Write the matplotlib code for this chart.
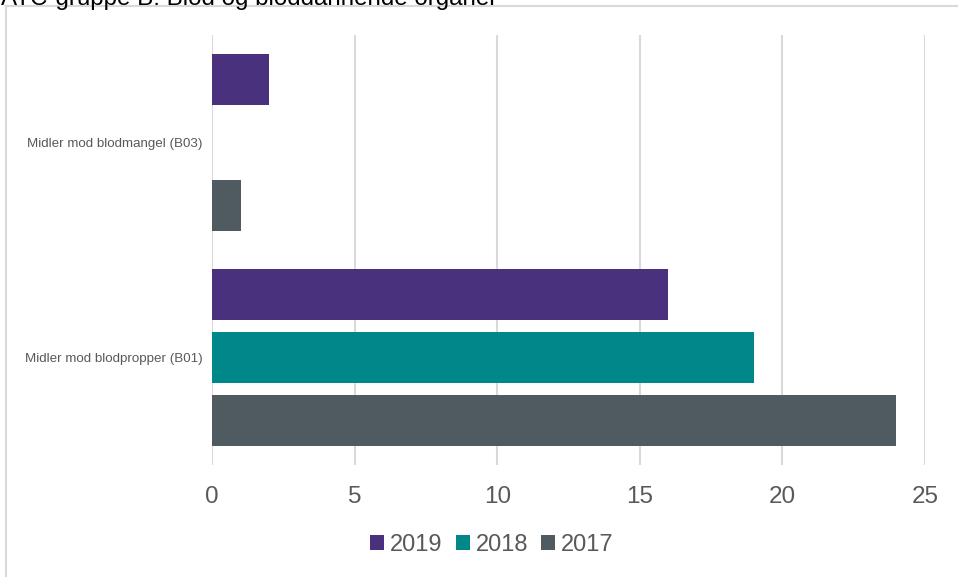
import matplotlib.pyplot as plt
from matplotlib.lines import Line2D
from matplotlib.patches import Patch
import numpy as np

plt.rcParams['font.family'] = ['Liberation Sans', 'DejaVu Sans']

categories = ["Midler mod blodpropper (B01)", "Midler mod blodmangel (B03)"]
years = ["2019", "2018", "2017"]
values_2019 = [16, 2]
values_2018 = [19, 0]
values_2017 = [24, 1]
x_ticks = [0, 5, 10, 15, 20, 25]
title = "ATC-gruppe B: Blod og bloddannende organer"

colors = {"2019": "#4A317E", "2018": "#00878A", "2017": "#4F5B61"}
series = {"2019": values_2019, "2018": values_2018, "2017": values_2017}

W, H = 958, 577
fig = plt.figure(figsize=(W / 100, H / 100), dpi=100)

# outer chart frame (extends past right/bottom edge)
fig.add_artist(Line2D([6 / W, 6 / W], [0, 1 - 6 / H], color="#D9D9D9", lw=1.5,
                      transform=fig.transFigure))
fig.add_artist(Line2D([6 / W, 1], [1 - 6 / H, 1 - 6 / H], color="#D9D9D9", lw=1.5,
                      transform=fig.transFigure))

# title, mostly above the canvas
fig.text(1 / W, 1 - 5 / H, title, ha="left", va="baseline", fontsize=17.4,
         color="#000000")

left, right = 212 / W, 925 / W
top, bottom = 1 - 35 / H, 1 - 465 / H
ax = fig.add_axes([left, bottom, right - left, top - bottom])

y = np.arange(len(categories))
step = 0.293
height = 0.237
offsets = {"2019": step, "2018": 0.0, "2017": -step}
for yr in years:
    ax.barh(y + offsets[yr], series[yr], height=height, color=colors[yr],
            label=yr, zorder=3)

ax.set_xlim(0, 25)
ax.set_ylim(-0.5, 1.5)
ax.set_xticks(x_ticks)
ax.set_xticklabels([str(t) for t in x_ticks])
ax.set_yticks(y)
ax.set_yticklabels(categories)
ax.tick_params(axis="x", length=0, labelsize=17.5, labelcolor="#595959", pad=15)
ax.tick_params(axis="y", length=0, labelsize=9.6, labelcolor="#595959", pad=7)
ax.grid(axis="x", color="#D9D9D9", lw=1.5, zorder=0)
for s in ax.spines.values():
    s.set_visible(False)

handles = [Patch(facecolor=colors[yr], label=yr) for yr in years]
fig.legend(handles=handles, loc="center", bbox_to_anchor=(492 / W, 1 - 545 / H),
           ncol=3, frameon=False, fontsize=17, labelcolor="#595959",
           handlelength=0.6, handleheight=0.6, handletextpad=0.25,
           columnspacing=0.55)

fig.savefig("out.png", dpi=100)
